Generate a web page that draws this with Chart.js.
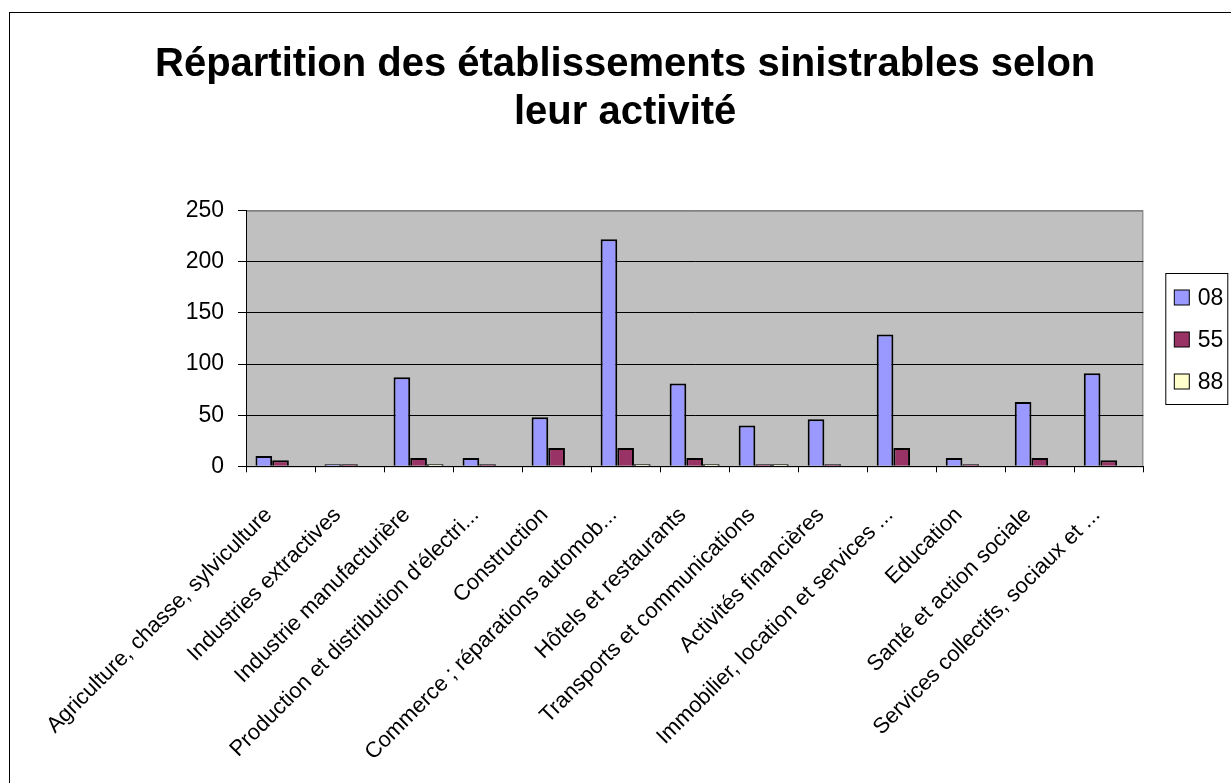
<!DOCTYPE html>
<html>
<head>
<meta charset="utf-8">
<script src="https://cdn.jsdelivr.net/npm/chart.js@4.4.0/dist/chart.umd.min.js"></script>
<style>
	html, body { margin: 0; padding: 0; background: #fff; overflow: hidden; }
	#frame { position: absolute; left: 9px; top: 12px; width: 1400px; height: 1000px; border: 1px solid #000; }
	#sinistres_chart { position: absolute; left: 0; top: 0; }
</style>
</head>
<body>
<div id="frame"></div>
<canvas id="sinistres_chart" width="1231" height="783"></canvas>
<script>
var activites = [
		'Agriculture, chasse, sylviculture',
		'Industries extractives',
		'Industrie manufacturière',
		"Production et distribution d'électri...",
		'Construction',
		'Commerce ; réparations automob...',
		'Hôtels et restaurants',
		'Transports et communications',
		'Activités financières',
		'Immobilier, location et services ...',
		'Education',
		'Santé et action sociale',
		'Services collectifs, sociaux et ...'
	],
	dept08 = [10, 2, 87, 8, 48, 222, 81, 40, 46, 129, 8, 63, 91],
	dept55 = [6, 2, 8, 2, 18, 18, 8, 2, 2, 18, 2, 8, 6],
	dept88 = [0, 0, 2, 0, 0, 2, 2, 2, 0, 0, 0, 0, 0],
	seriesNames = ['08', '55', '88'],
	colors = ['#9999FF', '#993366', '#FFFFCC'],
	yTicks = [0, 50, 100, 150, 200, 250],
	fontFamily = '"Liberation Sans", Arial, sans-serif';

var series = [dept08, dept55, dept88];

var dataChart = {
	labels: activites,
	datasets: series.map(function(values, i) {
		return {
			label: seriesNames[i],
			data: values,
			backgroundColor: colors[i],
			borderColor: '#000',
			borderWidth: 2,
			barPercentage: 1.0,
			categoryPercentage: 0.725
		};
	})
};

// grey plot area, like the old spreadsheet charts
var plotBackground = {
	id: 'plotBackground',
	beforeDraw: function(chart) {
		const { ctx, chartArea } = chart;
		ctx.save();
		ctx.fillStyle = '#C0C0C0';
		ctx.fillRect(chartArea.left, chartArea.top, chartArea.right - chartArea.left, chartArea.bottom - chartArea.top);
		ctx.strokeStyle = '#808080';
		ctx.lineWidth = 1;
		ctx.strokeRect(chartArea.left + 0.5, chartArea.top + 0.5, chartArea.right - chartArea.left - 1, chartArea.bottom - chartArea.top);
		ctx.restore();
	}
};

// boxed legend on the right
var boxLegend = {
	id: 'boxLegend',
	afterDraw: function(chart) {
		const { ctx, chartArea } = chart;
		const datasets = chart.data.datasets;
		const left = chartArea.right + 22.5,
			top = 273.5,
			rowH = 42;

		ctx.save();
		ctx.strokeStyle = '#000';
		ctx.lineWidth = 1;
		ctx.strokeRect(left, top, 62, 131);

		ctx.font = '23px ' + fontFamily;
		ctx.textBaseline = 'middle';
		for (let i = 0; i < datasets.length; ++i) {
			const cy = top + 24 + i * rowH;
			ctx.fillStyle = datasets[i].backgroundColor;
			ctx.fillRect(left + 8.5, cy - 7.5, 15, 15);
			ctx.strokeStyle = '#000';
			ctx.strokeRect(left + 8.5, cy - 7.5, 15, 15);
			ctx.fillStyle = '#000';
			ctx.fillText(datasets[i].label, left + 32, cy + 1);
		}
		ctx.restore();
	}
};

var config = {
	type: 'bar',
	data: dataChart,
	plugins: [plotBackground, boxLegend],
	options: {
		responsive: false,
		animation: false,
		layout: {
			padding: { left: 107, right: 87.7, top: 0, bottom: 0 }
		},
		plugins: {
			legend: { display: false },
			tooltip: { enabled: false },
			title: {
				display: true,
				text: ['Répartition des établissements sinistrables selon', 'leur activité'],
				color: '#000',
				font: { family: fontFamily, size: 40, weight: 'bold', lineHeight: 1.2 },
				padding: { top: 41, bottom: 73.7 }
			}
		},
		scales: {
			x: {
				afterFit: function(scale) { scale.height = 783 - 466.3; },
				grid: {
					display: true,
					offset: true,
					drawOnChartArea: false,
					color: '#000',
					tickLength: 6
				},
				border: { display: true, color: '#000', width: 1 },
				ticks: {
					minRotation: 45,
					maxRotation: 45,
					autoSkip: false,
					padding: 30,
					labelOffset: -12,
					color: '#000',
					font: { family: fontFamily, size: 22 }
				}
			},
			y: {
				min: 0,
				max: 250,
				afterFit: function(scale) { scale.width = 139; },
				afterBuildTicks: function(scale) {
					scale.ticks = yTicks.map(function(v) { return { value: v }; });
				},
				grid: {
					color: function(c) { return c.tick && c.tick.value === 250 ? '#808080' : '#000'; },
					tickColor: '#000',
					tickLength: 8
				},
				border: { display: true, color: '#000', width: 1 },
				ticks: {
					padding: 14,
					color: '#000',
					font: { family: fontFamily, size: 23 }
				}
			}
		}
	}
};

let sinistres_chart_ctx = document.getElementById('sinistres_chart');
if (sinistres_chart_ctx !== null) {
	sinistres_chart_ctx = sinistres_chart_ctx.getContext('2d');
	new Chart(sinistres_chart_ctx, config);
}
</script>
</body>
</html>
